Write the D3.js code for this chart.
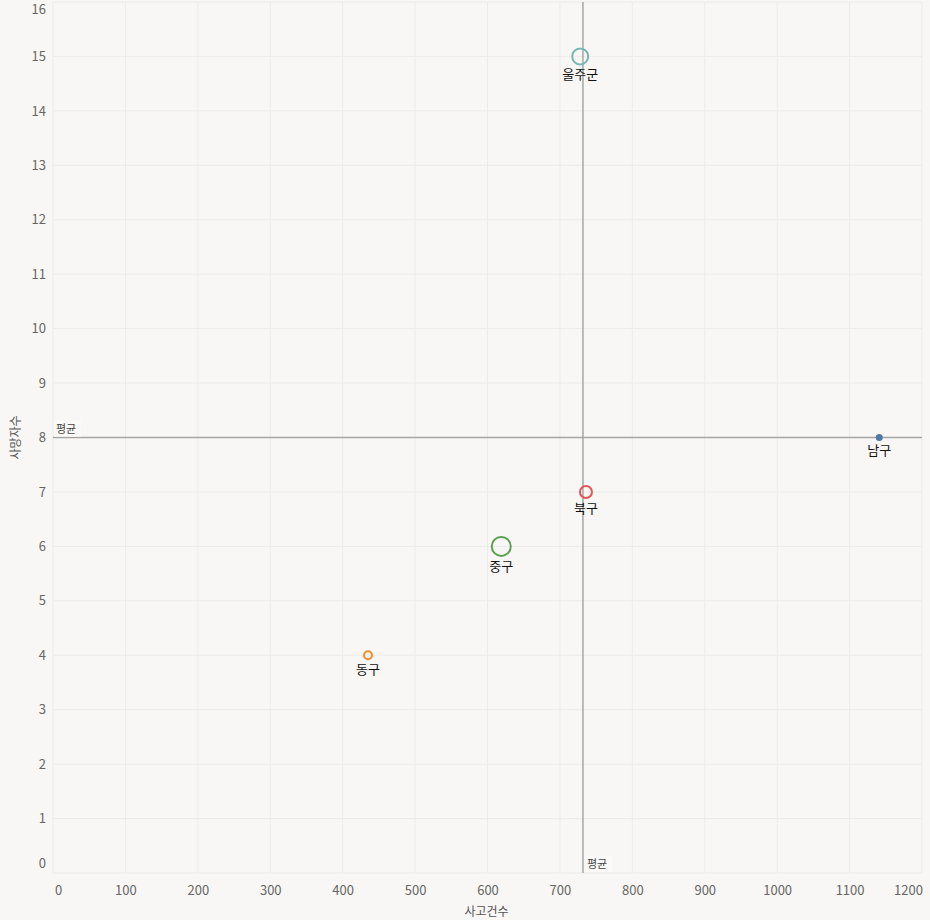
<!DOCTYPE html>
<html>
<head>
<meta charset="utf-8">
<script src="https://cdn.jsdelivr.net/npm/d3@7"></script>
<style>
  body { margin: 0; background: #f8f7f5; }
  text { font-family: "Noto Sans CJK KR", "Noto Sans", sans-serif; }
</style>
</head>
<body>
<div id="container"></div>
<script>
const width = 930;
const height = 920;

// data
const districts = ["울주군", "북구", "중구", "동구", "남구"];
const accidents = [728, 736, 619, 435, 1141];
const deaths = [15, 7, 6, 4, 8];
const sizes = [8, 6, 9.5, 4, 2.5];
const colors = ["#76b7b2", "#e15759", "#59a14f", "#f28e2b", "#4e79a7"];
const xTicks = d3.range(0, 1300, 100);
const yTicks = d3.range(0, 17, 1);

const margin = {top: 2, right: 8, bottom: 47, left: 53};

const x = d3.scaleLinear().domain([0, 1200]).range([margin.left, width - margin.right]);
const y = d3.scaleLinear().domain([0, 16]).range([height - margin.bottom, margin.top]);

let svg = d3.select("#container")
  .append("svg")
  .attr("width", width)
  .attr("height", height);

svg.append("rect").attr("width", width).attr("height", height).attr("fill", "#f8f7f5");

// grid
svg.append("g")
  .selectAll("line")
  .data(xTicks)
  .enter().append("line")
  .attr("x1", d => x(d)).attr("x2", d => x(d))
  .attr("y1", y(16)).attr("y2", y(0))
  .attr("stroke", "#ecebe9").attr("stroke-width", 1);
svg.append("g")
  .selectAll("line")
  .data(yTicks)
  .enter().append("line")
  .attr("x1", x(0)).attr("x2", x(1200))
  .attr("y1", d => y(d)).attr("y2", d => y(d))
  .attr("stroke", "#ecebe9").attr("stroke-width", 1);

// axes
const xAxis = svg.append("g")
  .attr("transform", "translate(0," + (y(0) + 9) + ")")
  .call(d3.axisBottom(x).tickValues(xTicks).tickFormat(d3.format("d")).tickSize(0).tickPadding(4));
xAxis.select(".domain").remove();
xAxis.selectAll("text")
  .attr("fill", "#666").style("font-size", "13px")
  .attr("dx", d => d === 0 ? 5 : (d === 1200 ? -14 : 0));

const yAxis = svg.append("g")
  .attr("transform", "translate(" + (x(0) - 7) + ",0)")
  .call(d3.axisLeft(y).tickValues(yTicks).tickFormat(d3.format("d")).tickSize(0).tickPadding(0));
yAxis.select(".domain").remove();
yAxis.selectAll("text")
  .attr("fill", "#666").style("font-size", "13px")
  .attr("dy", d => d === 0 ? "-0.4em" : (d === 16 ? "0.9em" : "0.32em"));

// axis titles
svg.append("text")
  .attr("x", (x(0) + x(1200)) / 2 - 1).attr("y", 916)
  .attr("text-anchor", "middle")
  .attr("fill", "#555").style("font-size", "12px")
  .text("사고건수");
svg.append("text")
  .attr("transform", "translate(20," + y(8) + ") rotate(-90)")
  .attr("text-anchor", "middle")
  .attr("fill", "#555").style("font-size", "12px")
  .text("사망자수");

// average reference lines
const meanX = d3.mean(accidents);
const meanY = d3.mean(deaths);

svg.append("line")
  .attr("x1", x(0)).attr("x2", x(1200))
  .attr("y1", y(meanY)).attr("y2", y(meanY))
  .attr("stroke", "#a5a5a5").attr("stroke-width", 1.5);
svg.append("line")
  .attr("x1", x(meanX)).attr("x2", x(meanX))
  .attr("y1", y(16)).attr("y2", y(0))
  .attr("stroke", "#a5a5a5").attr("stroke-width", 1.5);

svg.append("rect")
  .attr("x", x(0) + 1).attr("y", y(meanY) - 17).attr("width", 27).attr("height", 16)
  .attr("fill", "#fbfaf9");
svg.append("text")
  .attr("x", x(0) + 3).attr("y", y(meanY) - 5)
  .attr("fill", "#444").style("font-size", "11px")
  .text("평균");
svg.append("rect")
  .attr("x", x(meanX) + 2).attr("y", y(0) - 17).attr("width", 27).attr("height", 16)
  .attr("fill", "#fbfaf9");
svg.append("text")
  .attr("x", x(meanX) + 4).attr("y", y(0) - 5)
  .attr("fill", "#444").style("font-size", "11px")
  .text("평균");

// points
const points = svg.append("g")
  .selectAll("g")
  .data(districts)
  .enter().append("g")
  .attr("transform", (d, i) => "translate(" + x(accidents[i]) + "," + y(deaths[i]) + ")");

points.append("circle")
  .attr("r", (d, i) => sizes[i])
  .attr("fill", (d, i) => i === 4 ? colors[i] : "none")
  .attr("stroke", (d, i) => colors[i])
  .attr("stroke-width", 2);

points.append("text")
  .attr("y", (d, i) => sizes[i] + 15)
  .attr("text-anchor", "middle")
  .attr("fill", "#111").style("font-size", "13px")
  .text(d => d);
</script>
</body>
</html>
